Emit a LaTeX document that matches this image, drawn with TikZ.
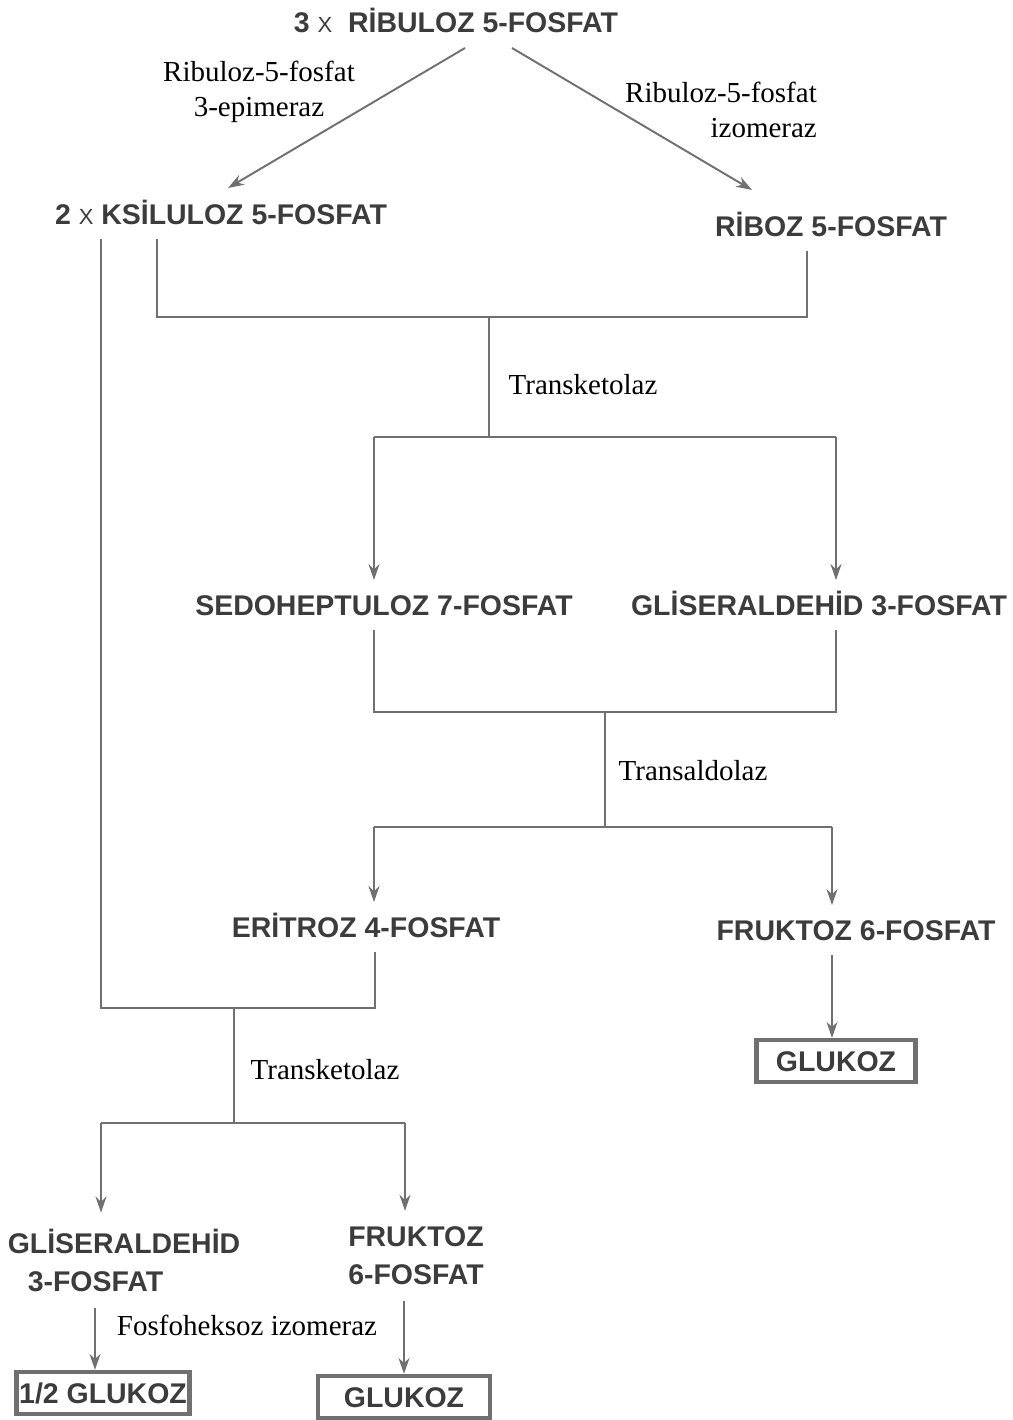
\documentclass[tikz,border=0pt]{standalone}
\usepackage{fontspec}
\setmainfont{Liberation Serif}
\setsansfont{Liberation Sans}
\usetikzlibrary{arrows.meta}
\definecolor{inkgray}{HTML}{3C3C3C}
\definecolor{linegray}{HTML}{707070}
\tikzset{
  chemfont/.style={font=\sffamily\bfseries\fontsize{16.2}{21.6}\selectfont, text=inkgray},
  chem/.style={chemfont, inner xsep=0pt, inner ysep=8pt, text height=12pt, text depth=0pt},
  chemtwo/.style={chemfont, inner xsep=0pt, inner ysep=9pt},
  enz/.style={font=\fontsize{16.5}{20}\selectfont, text=black, inner sep=0pt},
  endbox/.style={chem, draw=linegray, line width=2.4pt, inner sep=0pt,
    minimum height=0.84cm},
  line/.style={draw=linegray, line width=1.1pt},
  arr/.style={line, -{Stealth[length=0.32cm, width=0.22cm]}}
}
\newcommand{\molx}{{\mdseries\fontsize{12.5}{12}\selectfont X}}
\begin{document}
\begin{tikzpicture}[x=0.02cm, y=-0.02cm]
  \useasboundingbox (0,0) rectangle (1013,1420);
  % metabolites
  \node[chem] (ribu) at (456,22) {3 \molx\ \ RİBULOZ 5-FOSFAT};
  \node[chem] (ksil) at (221,214) {2 \molx\ KSİLULOZ 5-FOSFAT};
  \node[chem] (ribo) at (831,226) {RİBOZ 5-FOSFAT};
  \node[chem] (sedo) at (384,605) {SEDOHEPTULOZ 7-FOSFAT};
  \node[chem] (glis) at (819,605) {GLİSERALDEHİD 3-FOSFAT};
  \node[chem] (erit) at (366,927) {ERİTROZ 4-FOSFAT};
  \node[chem] (fruk) at (856,930) {FRUKTOZ 6-FOSFAT};
  \node[endbox, minimum width=3.18cm] (gluA) at (836,1061) {GLUKOZ};
  \node[chemtwo, align=left] (glisB) at (124,1260) {GLİSERALDEHİD\\\hspace*{0.4cm}3-FOSFAT};
  \node[chemtwo, align=center] (frukB) at (416,1256) {FRUKTOZ\\6-FOSFAT};
  \node[endbox, minimum width=3.46cm] (half) at (103,1393) {1/2 GLUKOZ};
  \node[endbox, minimum width=3.44cm] (gluB) at (404,1397) {GLUKOZ};
  % enzymes
  \node[enz, align=center] (epim) at (259,92) {Ribuloz-5-fosfat\\3-epimeraz};
  \node[enz, align=right] (izom) at (721,110) {Ribuloz-5-fosfat\\izomeraz};
  \node[enz] (tkA) at (583,385) {Transketolaz};
  \node[enz] (tald) at (693,771) {Transaldolaz};
  \node[enz] (tkB) at (325,1070) {Transketolaz};
  \node[enz] (fhi) at (247,1325) {Fosfoheksoz izomeraz};
  % junctions
  \coordinate (jAl) at (157,317);
  \coordinate (jAm) at (489,317);
  \coordinate (jAr) at (807,317);
  \coordinate (jBm) at (489,437);
  \coordinate (jBl) at (374,437);
  \coordinate (jBr) at (836,437);
  \coordinate (jCl) at (374,712);
  \coordinate (jCm) at (605,712);
  \coordinate (jCr) at (836,712);
  \coordinate (jDm) at (605,827);
  \coordinate (jDl) at (374,827);
  \coordinate (jDr) at (832,827);
  \coordinate (jEl) at (101,1008);
  \coordinate (jEm) at (234,1008);
  \coordinate (jEr) at (375,1008);
  \coordinate (jFm) at (234,1123);
  \coordinate (jFl) at (101,1123);
  \coordinate (jFr) at (405,1123);
  \coordinate (epiS) at (465,48);
  \coordinate (epiE) at (228,188);
  \coordinate (izoS) at (512,48);
  \coordinate (izoE) at (752,190);
  % connectors
  \draw[arr] (epiS) -- (epiE);
  \draw[arr] (izoS) -- (izoE);
  \draw[line] (ksil.south -| jAl) -- (jAl) -- (jAr) -- (ribo.south -| jAr);
  \draw[line] (jAm) -- (jBm);
  \draw[line] (jBl) -- (jBr);
  \draw[arr] (jBl) -- (sedo.north -| jBl);
  \draw[arr] (jBr) -- (glis.north -| jBr);
  \draw[line] (sedo.south -| jCl) -- (jCl) -- (jCr) -- (glis.south -| jCr);
  \draw[line] (jCm) -- (jDm);
  \draw[line] (jDl) -- (jDr);
  \draw[arr] (jDl) -- (erit.north -| jDl);
  \draw[arr] (jDr) -- (fruk.north -| jDr);
  \draw[arr] (fruk.south -| jDr) -- (gluA.north -| jDr);
  \draw[line] (ksil.south -| jEl) -- (jEl) -- (jEr) -- (erit.south -| jEr);
  \draw[line] (jEm) -- (jFm);
  \draw[line] (jFl) -- (jFr);
  \draw[arr] (jFl) -- (glisB.north -| jFl);
  \draw[arr] (jFr) -- (frukB.north -| jFr);
  \draw[arr] ([xshift=-0.16cm]glisB.south -| half.north) -- ([xshift=-0.16cm]half.north);
  \draw[arr] (frukB.south -| gluB.north) -- (gluB.north);
\end{tikzpicture}
\end{document}
